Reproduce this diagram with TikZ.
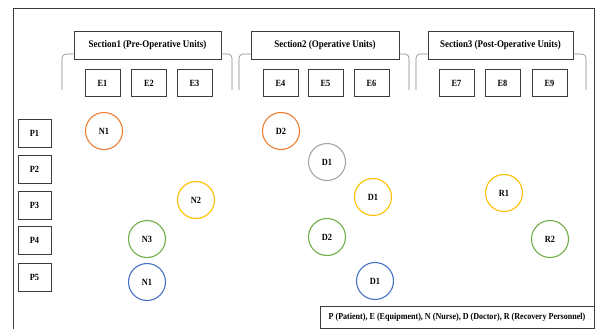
\documentclass[tikz,border=0pt]{standalone}
\usepackage{fontspec}
\setmainfont{Liberation Serif}
\newfontfamily\condfont[FakeStretch=0.88]{Liberation Serif}
\definecolor{cOrange}{RGB}{237,125,49}
\definecolor{cYellow}{RGB}{255,192,0}
\definecolor{cGreen}{RGB}{112,173,71}
\definecolor{cBlue}{RGB}{68,114,196}
\definecolor{cGray}{RGB}{165,165,165}
\definecolor{cLine}{RGB}{60,60,60}
\begin{document}
\begin{tikzpicture}[x=1bp,y=-1bp,
  txt/.style={font=\condfont\fontsize{9.5}{10}\selectfont\bfseries},
  sectxt/.style={font=\condfont\fontsize{10.2}{11}\selectfont\bfseries},
  secbox/.style={draw=cLine,line width=0.7bp,sectxt,inner sep=0pt,minimum height=28bp},
  ebox/.style={draw=cLine,line width=0.8bp,txt,inner sep=0pt,minimum width=35bp,minimum height=27bp},
  pbox/.style={draw=cLine,line width=0.8bp,txt,inner sep=0pt,minimum width=33bp,minimum height=28bp},
  staff/.style={circle,line width=1.1bp,txt,inner sep=0pt,minimum size=37bp},
  brack/.style={draw=cGray!80!black,line width=0.6bp,rounded corners=4bp}]
\useasboundingbox (0,0) rectangle (598,329);
% outer frame (open at the bottom)
\draw[cLine,line width=0.9bp] (13,329) -- (13,8) -- (594,8) -- (594,329);
% sections
\node[secbox,minimum width=147bp] (s1) at (147.5,45) {Section1 (Pre-Operative Units)};
\node[secbox,minimum width=148bp] (s2) at (325,45) {Section2 (Operative Units)};
\node[secbox,minimum width=145bp] (s3) at (500.5,45) {Section3 (Post-Operative Units)};
% brackets
\coordinate (b1l) at (62,90); \coordinate (b1r) at (232,90);
\coordinate (b2l) at (239,90); \coordinate (b2r) at (409,90);
\coordinate (b3l) at (416,90); \coordinate (b3r) at (586,90);
\draw[brack] (b1l) -- (b1l |- 0,54) -- (s1.west |- 0,54);
\draw[brack] (s1.east |- 0,54) -- (b1r |- 0,54) -- (b1r);
\draw[brack] (b2l) -- (b2l |- 0,54) -- (s2.west |- 0,54);
\draw[brack] (s2.east |- 0,54) -- (b2r |- 0,54) -- (b2r);
\draw[brack] (b3l) -- (b3l |- 0,54) -- (s3.west |- 0,54);
\draw[brack] (s3.east |- 0,54) -- (b3r |- 0,54) -- (b3r);
% equipment
\node[ebox] (e1) at (102.5,83) {E1};
\node[ebox] (e2) at (149,83) {E2};
\node[ebox] (e3) at (194.5,83) {E3};
\node[ebox] (e4) at (280.5,83) {E4};
\node[ebox] (e5) at (325.5,83) {E5};
\node[ebox] (e6) at (371.5,83) {E6};
\node[ebox] (e7) at (456.5,83) {E7};
\node[ebox] (e8) at (502.5,83) {E8};
\node[ebox] (e9) at (549.5,83) {E9};
% patients
\node[pbox] (p1) at (34.5,133) {P1};
\node[pbox] (p2) at (34.5,169.5) {P2};
\node[pbox] (p3) at (34.5,205.5) {P3};
\node[pbox] (p4) at (34.5,240) {P4};
\node[pbox] (p5) at (34.5,277) {P5};
% staff
\node[staff,draw=cOrange] (n1a) at (104,131) {N1};
\node[staff,draw=cOrange] (d2a) at (281,131) {D2};
\node[staff,draw=cYellow] (n2) at (196,200) {N2};
\node[staff,draw=cGreen] (n3) at (147,239) {N3};
\node[staff,draw=cBlue] (n1b) at (147,282) {N1};
\node[staff,draw=cGray] (d1a) at (327,162) {D1};
\node[staff,draw=cYellow] (d1b) at (373,197) {D1};
\node[staff,draw=cGreen] (d2b) at (327,237) {D2};
\node[staff,draw=cBlue] (d1c) at (375,281) {D1};
\node[staff,draw=cYellow] (r1) at (504,193) {R1};
\node[staff,draw=cGreen] (r2) at (550,239) {R2};
% legend
\node[draw=cLine,line width=0.7bp,font=\condfont\fontsize{9.2}{10}\selectfont\bfseries,inner sep=0pt,minimum width=274bp,minimum height=22bp] (leg) at (457,317)
  {P (Patient), E (Equipment), N (Nurse), D (Doctor), R (Recovery Personnel)};
\end{tikzpicture}
\end{document}
